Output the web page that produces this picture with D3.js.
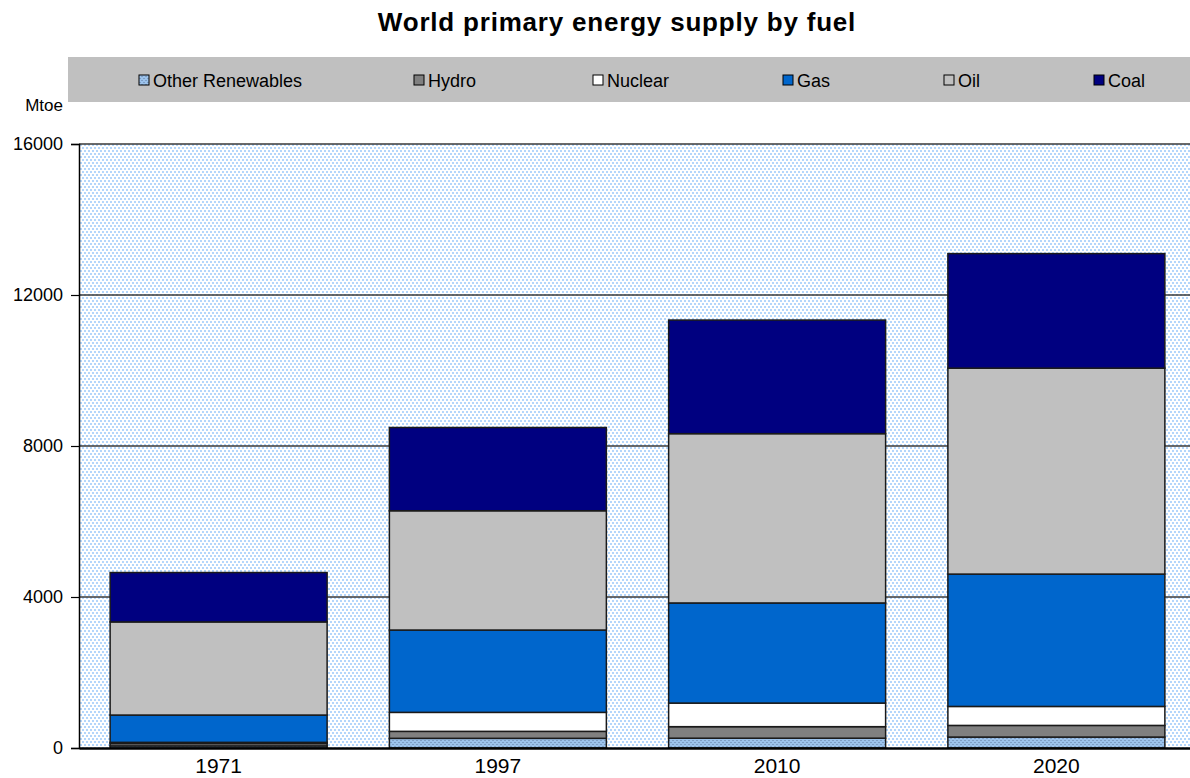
<!DOCTYPE html>
<html>
<head>
<meta charset="utf-8">
<script src="https://cdn.jsdelivr.net/npm/d3@7"></script>
<style>
  html, body { margin: 0; padding: 0; background: #ffffff; }
  svg { display: block; font-family: "Liberation Sans", Arial, sans-serif; }
</style>
</head>
<body>
<svg id="chart" width="1190" height="778"></svg>
<script>
// ---- data (Mtoe) ----
const years = ["1971", "1997", "2010", "2020"];
const fuels = ["Other Renewables", "Hydro", "Nuclear", "Gas", "Oil", "Coal"];
const otherRenewables = [55, 256, 260, 290];
const hydro = [65, 185, 305, 308];
const nuclear = [30, 503, 625, 503];
const gas = [723, 2181, 2652, 3506];
const oil = [2467, 3160, 4485, 5455];
const coal = [1308, 2205, 3009, 3035];
const yTicks = [0, 4000, 8000, 12000, 16000];

const seriesValues = {
  "Other Renewables": otherRenewables,
  "Hydro": hydro,
  "Nuclear": nuclear,
  "Gas": gas,
  "Oil": oil,
  "Coal": coal
};
const table = years.map((y, i) => {
  const row = { year: y };
  fuels.forEach(f => row[f] = seriesValues[f][i]);
  return row;
});

const fills = {
  "Other Renewables": "url(#patOther)",
  "Hydro": "#808080",
  "Nuclear": "#ffffff",
  "Gas": "#0066cc",
  "Oil": "#c0c0c0",
  "Coal": "#000080"
};

const svg = d3.select("#chart");
const defs = svg.append("defs");

// plot background pattern (light blue dots on white)
const pb = defs.append("pattern").attr("id", "patBg")
  .attr("patternUnits", "userSpaceOnUse").attr("width", 4).attr("height", 6);
pb.append("rect").attr("width", 4).attr("height", 6).attr("fill", "#ffffff");
pb.append("rect").attr("x", 0).attr("y", 0).attr("width", 2).attr("height", 2).attr("fill", "#b4d6fb");
pb.append("rect").attr("x", 2).attr("y", 3).attr("width", 2).attr("height", 2).attr("fill", "#b4d6fb");

// other renewables pattern
const po = defs.append("pattern").attr("id", "patOther")
  .attr("patternUnits", "userSpaceOnUse").attr("width", 4).attr("height", 4);
po.append("rect").attr("width", 4).attr("height", 4).attr("fill", "#9cc3ec");
po.append("rect").attr("x", 0).attr("y", 0).attr("width", 2).attr("height", 1).attr("fill", "#7e9fc6");
po.append("rect").attr("x", 2).attr("y", 2).attr("width", 2).attr("height", 1).attr("fill", "#7e9fc6");

const plotLeft = 79, plotRight = 1196, plotTop = 144, plotBottom = 748;

const x = d3.scaleBand().domain(years).range([plotLeft, plotRight])
  .paddingInner(0.223).paddingOuter(0.1115);
const y = d3.scaleLinear().domain([0, 16000]).range([plotBottom, plotTop]);

// title
svg.append("text")
  .attr("x", 617).attr("y", 31)
  .attr("text-anchor", "middle")
  .attr("font-size", 26).attr("font-weight", "bold")
  .attr("letter-spacing", 0.8)
  .attr("fill", "#000")
  .text("World primary energy supply by fuel");

// legend box
svg.append("rect").attr("x", 68).attr("y", 57).attr("width", 1130).attr("height", 45)
  .attr("fill", "#c0c0c0");
const legendX = [153, 428, 607, 797, 958, 1108];
const lg = svg.append("g").selectAll("g").data(fuels).join("g")
  .attr("transform", (d, i) => `translate(${legendX[i]},80)`);
lg.append("rect").attr("x", -14).attr("y", -5).attr("width", 10).attr("height", 10)
  .attr("fill", d => fills[d]).attr("stroke", "#000").attr("stroke-width", 1);
lg.append("text").attr("x", 0).attr("y", 6.5).attr("font-size", 18).attr("fill", "#000")
  .text(d => d);

// y unit label
svg.append("text").attr("x", 63).attr("y", 111).attr("text-anchor", "end")
  .attr("font-size", 17).attr("fill", "#000").text("Mtoe");

// plot background
svg.append("rect").attr("x", plotLeft).attr("y", plotTop)
  .attr("width", plotRight - plotLeft).attr("height", plotBottom - plotTop)
  .attr("fill", "url(#patBg)");

// gridlines
svg.append("g").selectAll("line").data(yTicks.filter(t => t > 0)).join("line")
  .attr("x1", plotLeft).attr("x2", plotRight)
  .attr("y1", d => y(d)).attr("y2", d => y(d))
  .attr("stroke", "#3a3a3a").attr("stroke-width", 1.5);

// stacked bars
const stack = d3.stack().keys(fuels)(table);
svg.append("g").selectAll("g").data(stack).join("g")
  .attr("fill", d => fills[d.key])
  .selectAll("rect").data(d => d).join("rect")
  .attr("x", d => x(d.data.year))
  .attr("width", x.bandwidth())
  .attr("y", d => y(d[1]))
  .attr("height", d => y(d[0]) - y(d[1]))
  .attr("stroke", "#1a1a1a").attr("stroke-width", 1.5);

// y axis
const yAxis = svg.append("g").attr("transform", `translate(${plotLeft},0)`)
  .call(d3.axisLeft(y).tickValues(yTicks).tickFormat(d3.format("d")).tickSize(8).tickPadding(8));
yAxis.select(".domain").attr("stroke", "#000").attr("stroke-width", 1.5);
yAxis.selectAll(".tick line").attr("stroke", "#000").attr("stroke-width", 1.2);
yAxis.selectAll(".tick text").attr("font-size", 18).attr("fill", "#000")
  .attr("font-family", "'Liberation Sans', Arial, sans-serif");

// x axis
const xAxis = svg.append("g").attr("transform", `translate(0,${plotBottom})`)
  .call(d3.axisBottom(x).tickSize(0).tickPadding(10));
xAxis.select(".domain").attr("stroke", "#000").attr("stroke-width", 2.5);
xAxis.selectAll(".tick text").attr("font-size", 21).attr("fill", "#000")
  .attr("font-family", "'Liberation Sans', Arial, sans-serif");
</script>
</body>
</html>
